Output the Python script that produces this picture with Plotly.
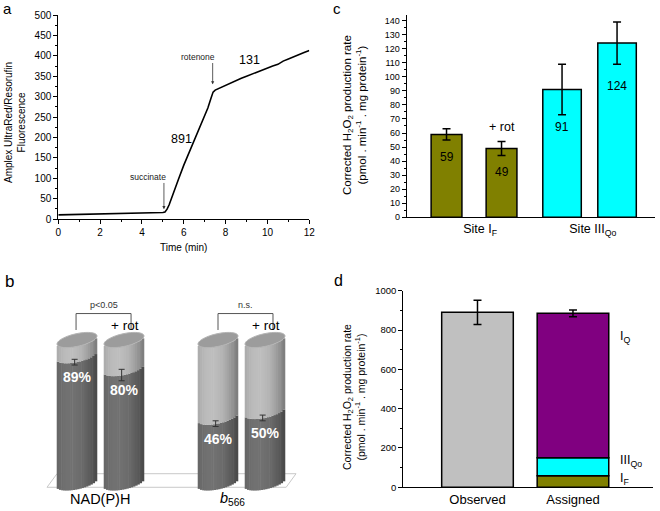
import math
import plotly.graph_objects as go

FONT = "Liberation Sans, Arial, sans-serif"
W, H = 660, 511

# ---------------- data ----------------
# panel a: Amplex UltraRed trace
time_min = [0, 0.5, 1, 1.5, 2, 2.5, 3, 3.5, 4, 4.5, 5.0, 5.1, 5.2, 5.3, 5.4, 5.5,
            5.75, 6.0, 6.25, 6.5, 6.75, 7.0, 7.15, 7.3, 7.4, 7.5, 7.75, 8.0, 8.25,
            8.5, 8.75, 9.0, 9.25, 9.5, 9.75, 10.0, 10.25, 10.5, 10.75, 11.0, 11.25,
            11.5, 11.75, 12.0]
fluorescence = [10, 10.5, 11, 11.5, 12, 12.5, 13, 13.5, 14, 15, 16, 17, 24, 35, 48, 62,
                98, 132, 162, 190, 220, 253, 272, 296, 311, 316, 322, 328, 334,
                340, 345, 350, 355, 360, 366, 370, 375, 379, 387, 392, 398,
                402, 408, 413]
rate_labels = ["891", "131"]

# panel b: % reduced
b_groups = ["NAD(P)H", "<i>b</i><sub>566</sub>"]
b_values = [89, 80, 46, 50]
b_err = [2, 4, 2, 2]
b_text = ["89%", "80%", "46%", "50%"]
b_tests = ["p&lt;0.05", "n.s."]

# panel c
c_groups = ["Site I<sub>F</sub>", "Site III<sub>Qo</sub>"]
c_values = [59, 49, 91, 124]
c_err = [4, 5, 18, 15]
c_colors = ["#808000", "#808000", "#00FFFF", "#00FFFF"]

# panel d
d_categories = ["Observed", "Assigned"]
d_observed = 890
d_observed_err = 62
d_sites = ["I<sub>F</sub>", "III<sub>Qo</sub>", "I<sub>Q</sub>"]
d_site_values = [59, 91, 735]
d_site_colors = ["#808000", "#00FFFF", "#800080"]
d_assigned_err = 17

# ---------------- layout helpers ----------------
def px(x):
    return x / W

def py(y):
    return 1 - y / H

fig = go.Figure()
shapes = []
ann = []

def paper_text(x, y, text, size, angle=0):
    ann.append(dict(x=px(x), y=py(y), xref="paper", yref="paper", text=text,
                    xanchor="center", yanchor="middle", textangle=angle,
                    showarrow=False, font=dict(size=size, color="black")))

axis_common = dict(showline=True, linecolor="black", linewidth=1, ticks="outside",
                   ticklen=4, tickcolor="black", showgrid=False, zeroline=False)

# ---------------- panel a ----------------
fig.add_trace(go.Scatter(x=time_min, y=fluorescence, mode="lines",
                         line=dict(color="black", width=1.6), xaxis="x", yaxis="y",
                         showlegend=False))
ann += [
    dict(x=5.05, y=24, ax=5.05, ay=92, xref="x", yref="y", axref="x", ayref="y",
         text="", showarrow=True, arrowhead=2, arrowsize=0.8, arrowwidth=0.8, arrowcolor="#333"),
    dict(x=4.3, y=104, xref="x", yref="y", text="succinate", showarrow=False,
         font=dict(size=8.5, color="#222")),
    dict(x=7.38, y=330, ax=7.38, ay=386, xref="x", yref="y", axref="x", ayref="y",
         text="", showarrow=True, arrowhead=2, arrowsize=0.8, arrowwidth=0.8, arrowcolor="#333"),
    dict(x=6.69, y=398, xref="x", yref="y", text="rotenone", showarrow=False,
         font=dict(size=8.5, color="#222")),
    dict(x=5.9, y=196, xref="x", yref="y", text=rate_labels[0], showarrow=False,
         font=dict(size=12.5, color="black")),
    dict(x=9.16, y=390, xref="x", yref="y", text=rate_labels[1], showarrow=False,
         font=dict(size=12.5, color="black")),
]
paper_text(15, 123, "Amplex UltraRed/Resorufin<br>Fluorescence", 10, -90)
paper_text(183, 247, "Time (min)", 10)

# ---------------- panel b (3D cylinders) ----------------
b_pos = [0, 1, 3, 4]
A = 0.4255   # half width (x units)
B = 4.5      # ellipse half height (y units)
S = 2.8      # tilt
N = 18
sw = 2 * A / N

def front(u):
    return -B * math.sqrt(max(0.0, 1 - u * u)) + S * u

def shade(u):
    g = 1 - ((u + 0.3) / 1.3) ** 2
    return max(0.0, g)

for i in range(N):
    dx = -A + (i + 0.5) * sw
    u = dx / A
    f = front(u)
    g = shade(u)
    dk = int(72 + 42 * g)
    lt = int(122 + 68 * g)
    fig.add_trace(go.Bar(x=[p + dx for p in b_pos], y=b_values, base=[f] * 4,
                         width=sw * 1.25, marker=dict(color=f"rgb({dk},{dk},{dk})", line=dict(width=0)),
                         xaxis="x2", yaxis="y2", showlegend=False, hoverinfo="skip"))
    fig.add_trace(go.Bar(x=[p + dx for p in b_pos], y=[100 - v for v in b_values],
                         base=[v + f for v in b_values], width=sw * 1.25,
                         marker=dict(color=f"rgb({lt},{lt},{lt})", line=dict(width=0)),
                         xaxis="x2", yaxis="y2", showlegend=False, hoverinfo="skip"))

def ellipse_path(cx, cy, n=60):
    pts = []
    for k in range(n):
        t = 2 * math.pi * k / n
        pts.append((cx + A * math.cos(t), cy + B * math.sin(t) + S * math.cos(t)))
    return "M " + " L ".join(f"{x:.4f},{y:.4f}" for x, y in pts) + " Z"

# floor
shapes.append(dict(type="path", xref="x2", yref="y2", layer="below",
                   path="M -0.638,-3.0 L -0.4255,6.5 L 4.66,6.5 L 4.45,-3.0 Z",
                   line=dict(color="#c8c8c8", width=1), fillcolor="white"))
for p in b_pos:
    shapes.append(dict(type="path", xref="x2", yref="y2", layer="above",
                       path=ellipse_path(p, 100), fillcolor="#9c9c9c",
                       line=dict(color="#b4b4b4", width=1)))

fig.add_trace(go.Scatter(x=[p - 0.05 for p in b_pos], y=[v - B for v in b_values],
                         mode="markers", marker=dict(size=1, color="rgba(0,0,0,0)"),
                         error_y=dict(type="data", array=b_err, color="#333", thickness=1, width=3),
                         xaxis="x2", yaxis="y2", showlegend=False, hoverinfo="skip"))
for p, v, t in zip(b_pos, b_values, b_text):
    ann.append(dict(x=p, y=v - 15, xref="x2", yref="y2", text=f"<b>{t}</b>",
                    showarrow=False, font=dict(size=14, color="white")))
for (x1, x2), t in zip([(-0.02, 1.15), (3.0, 4.17)], b_tests):
    shapes.append(dict(type="path", xref="x2", yref="y2",
                       path=f"M {x1},107 L {x1},118.5 L {x2},118.5 L {x2},107",
                       line=dict(color="#555", width=1)))
    ann.append(dict(x=(x1 + x2) / 2, y=119.5, xref="x2", yref="y2", text=t, yanchor="bottom",
                    showarrow=False, font=dict(size=9, color="#333")))
for p in [1, 4]:
    ann.append(dict(x=p + 0.03, y=110, xref="x2", yref="y2", text="+ rot",
                    showarrow=False, font=dict(size=13.5, color="black")))
for g, xg in zip(b_groups, [0.49, 3.3]):
    ann.append(dict(x=xg, y=-11, xref="x2", yref="y2", text=g, showarrow=False,
                    font=dict(size=14.5, color="black")))

# ---------------- panel c ----------------
c_pos = [0, 1, 2.1, 3.1]
c_width = [0.56, 0.56, 0.7, 0.7]
fig.add_trace(go.Bar(x=c_pos, y=c_values, width=c_width,
                     marker=dict(color=c_colors, line=dict(color="black", width=1.5)),
                     error_y=dict(type="data", array=c_err, color="black", thickness=1.5, width=4),
                     xaxis="x3", yaxis="y3", showlegend=False))
c_label_y = [43, 32, 64.5, 93.5]
for p, v, yl in zip(c_pos, c_values, c_label_y):
    ann.append(dict(x=p, y=yl, xref="x3", yref="y3", text=str(v), showarrow=False,
                    font=dict(size=12, color="black")))
for p, yl in zip([1, 3.1], [64, 146]):
    ann.append(dict(x=p, y=yl, xref="x3", yref="y3", text="+ rot", showarrow=False,
                    font=dict(size=12.5, color="black")))
ytitle = ("Corrected H<sub>2</sub>O<sub>2</sub> production rate<br>"
          "(pmol . min<sup>-1</sup> . mg protein<sup>-1</sup>)")
paper_text(354, 115, ytitle, 11.5, -90)

# ---------------- panel d ----------------
fig.add_trace(go.Bar(x=[0], y=[d_observed], width=0.75,
                     marker=dict(color="#C0C0C0", line=dict(color="black", width=1.5)),
                     error_y=dict(type="data", array=[d_observed_err], color="black", thickness=1.5, width=4),
                     xaxis="x4", yaxis="y4", showlegend=False))
base = 0
for k, (v, col) in enumerate(zip(d_site_values, d_site_colors)):
    last = k == len(d_site_values) - 1
    fig.add_trace(go.Bar(x=[1], y=[v], base=[base], width=0.75,
                         marker=dict(color=col, line=dict(color="black", width=1.5)),
                         error_y=dict(type="data", array=[d_assigned_err], color="black",
                                      thickness=1.5, width=4, visible=last),
                         xaxis="x4", yaxis="y4", showlegend=False))
    base += v
d_label_y = [42, 134, 764]
for s, yl in zip(d_sites, d_label_y):
    ann.append(dict(x=1.47, y=yl, xref="x4", yref="y4", text=s, xanchor="left",
                    showarrow=False, font=dict(size=12.5, color="black")))
paper_text(354, 397, ytitle, 10.5, -90)

# panel letters
for letter, x, y, s in [("a", 7, 8, 15), ("b", 9, 281, 17), ("c", 337, 9, 15), ("d", 338, 280, 16)]:
    paper_text(x, y, letter, s)

fig.update_layout(
    width=W, height=H, margin=dict(l=0, r=0, t=0, b=0, autoexpand=False),
    paper_bgcolor="white", plot_bgcolor="white", barmode="overlay",
    font=dict(family=FONT, color="black"),
    xaxis=dict(domain=[px(58.3), px(309.3)], range=[0, 12], anchor="y", dtick=2,
               tickfont=dict(size=10),
               minor=dict(ticks="outside", ticklen=2, tickcolor="black", dtick=1), **axis_common),
    yaxis=dict(domain=[py(219), py(15)], range=[0, 500], anchor="x", dtick=50,
               tickfont=dict(size=10),
               minor=dict(ticks="outside", ticklen=2, tickcolor="black", dtick=25), **axis_common),
    xaxis2=dict(domain=[0, 0.5], range=[-77 / 47, 253 / 47], anchor="y2", visible=False),
    yaxis2=dict(domain=[0, py(250)], range=[(483 - 511) / 1.43, (483 - 250) / 1.43],
                anchor="x2", visible=False),
    xaxis3=dict(domain=[px(406.7), px(655)], range=[-0.724, 3.79], anchor="y3",
                tickvals=[0.61, 2.66], ticktext=c_groups, tickfont=dict(size=12.5),
                showline=True, linecolor="black", linewidth=1, ticks="", showgrid=False,
                zeroline=False),
    yaxis3=dict(domain=[py(217.3), py(15)], range=[0, 144], anchor="x3", dtick=10,
                tickfont=dict(size=9),
                minor=dict(ticks="outside", ticklen=2, tickcolor="black", dtick=5), **axis_common),
    xaxis4=dict(domain=[px(403.3), px(652.7)], range=[-0.777, 1.835], anchor="y4",
                tickvals=[0, 1], ticktext=d_categories, tickfont=dict(size=13),
                showline=True, linecolor="black", linewidth=1, ticks="", showgrid=False,
                zeroline=False),
    yaxis4=dict(domain=[py(487.3), py(290.7)], range=[0, 1000], anchor="x4", dtick=200,
                tickfont=dict(size=9.5),
                minor=dict(ticks="outside", ticklen=2, tickcolor="black", dtick=100), **axis_common),
    shapes=shapes, annotations=ann,
)

fig.write_html("out.html", config={"displayModeBar": False},
               post_script="document.body.style.margin='0px';")
